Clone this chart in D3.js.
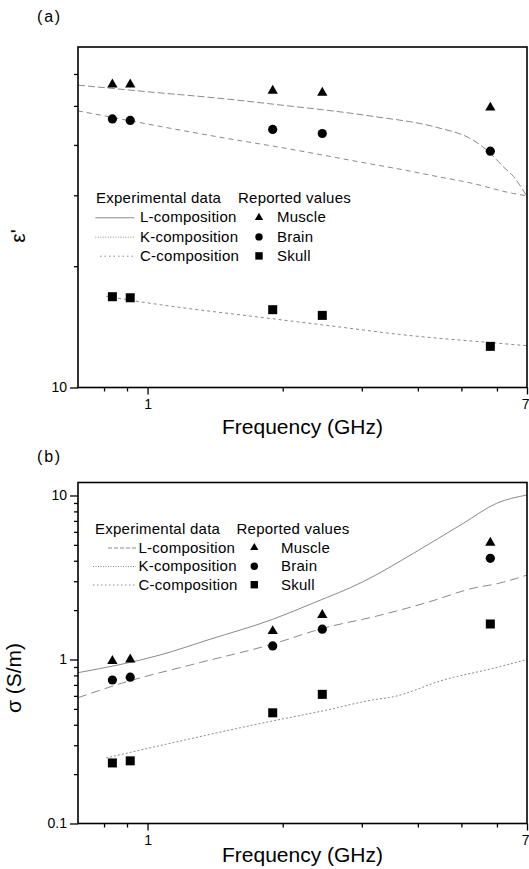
<!DOCTYPE html>
<html><head><meta charset="utf-8">
<script src="https://cdn.jsdelivr.net/npm/d3@7"></script>
<style>
body{margin:0;background:#fff}
svg{display:block}
text{font-family:"Liberation Sans",Arial,Helvetica,sans-serif;fill:#000}
</style></head>
<body>
<svg id="chart" width="529" height="869"></svg>
<script>
// ---------- data ----------
const freqReported = [0.835, 0.915, 1.9, 2.45, 5.8];
const epsMuscle = [56.5, 56.5, 54.5, 53.9, 49.5];
const epsBrain  = [46.4, 46.0, 43.7, 42.7, 38.6];
const epsSkull  = [16.8, 16.7, 15.6, 15.1, 12.65];
const sigMuscle = [0.98, 1.0, 1.49, 1.87, 5.15];
const sigBrain  = [0.75, 0.78, 1.21, 1.53, 4.14];
const sigSkull  = [0.234, 0.241, 0.473, 0.613, 1.646];

const epsLFreq = [0.7, 1.0, 1.45, 1.9, 3.13, 4.41, 5.23, 5.69, 6.2, 6.53, 7.0];
const epsLVal  = [56.3, 54.2, 52.2, 50.5, 47.2, 44.2, 41.5, 38.9, 35.3, 33.4, 29.8];
const epsKFreq = [0.7, 1.45, 2.04, 3.13, 3.71, 4.41, 5.23, 6.53, 7.0];
const epsKVal  = [48.6, 41.8, 39.2, 35.9, 34.7, 33.4, 32.2, 30.3, 29.9];
const epsCFreq = [0.809, 0.915, 1.9, 2.45, 3.74, 5.73, 7.0];
const epsCVal  = [16.85, 16.47, 14.81, 14.31, 13.5, 12.94, 12.7];

const sigLFreq = [0.7, 1.066, 1.377, 1.9, 2.34, 3.02, 3.91, 5.05, 5.99, 7.0];
const sigLVal  = [0.831, 1.065, 1.328, 1.758, 2.21, 2.98, 4.44, 6.77, 8.96, 10.07];
const sigKFreq = [0.7, 0.899, 1.264, 1.9, 2.46, 3.24, 4.18, 5.31, 6.04, 7.0];
const sigKVal  = [0.585, 0.732, 0.935, 1.243, 1.55, 1.84, 2.22, 2.72, 2.91, 3.27];
const sigCFreq = [0.809, 1.9, 2.51, 3.17, 3.53, 4.56, 5.89, 7.0];
const sigCVal  = [0.251, 0.422, 0.492, 0.567, 0.593, 0.75, 0.884, 1.0];

const xDomain = [0.7, 7];
const xMajorTicks = [1, 7];
const xMinorTicks = [0.8, 0.9, 2, 3, 4, 5, 6];
const epsDomain = [10, 70];
const epsMajorTicks = [10];
const epsMinorTicks = [20, 30, 40, 50, 60];
const sigDomain = [0.1, 12];
const sigMajorTicks = [0.1, 1, 10];
const sigMinorTicks = [0.2,0.3,0.4,0.5,0.6,0.7,0.8,0.9,2,3,4,5,6,7,8,9];

const legendExp = ["L-composition", "K-composition", "C-composition"];
const legendRep = ["Muscle", "Brain", "Skull"];

// ---------- drawing ----------
const svg = d3.select("#chart");
const lineColor = "#8a8a8a";

function panel(cfg) {
  const x = d3.scaleLog().domain(xDomain).range([78, 527]);
  const y = d3.scaleLog().domain(cfg.domain).range([cfg.bottom, cfg.top]);
  const g = svg.append("g");

  // curves
  const line = d3.line().x(d => x(d[0])).y(d => y(d[1])).curve(d3.curveMonotoneX);
  cfg.curves.forEach(c => {
    g.append("path")
      .attr("d", line(d3.zip(c.f, c.v)))
      .attr("fill", "none")
      .attr("stroke", lineColor)
      .attr("stroke-width", 1)
      .attr("stroke-dasharray", c.dash);
  });

  // markers
  const tri = d3.symbol(d3.symbolTriangle, 46);
  g.selectAll(".tri").data(d3.zip(freqReported, cfg.muscle)).join("path")
    .attr("d", tri).attr("transform", d => `translate(${x(d[0])},${y(d[1])})`).attr("fill", "#000");
  g.selectAll(".cir").data(d3.zip(freqReported, cfg.brain)).join("circle")
    .attr("cx", d => x(d[0])).attr("cy", d => y(d[1])).attr("r", 4.6).attr("fill", "#000");
  g.selectAll(".sq").data(d3.zip(freqReported, cfg.skull)).join("rect")
    .attr("x", d => x(d[0]) - 4.5).attr("y", d => y(d[1]) - 4.5)
    .attr("width", 9).attr("height", 9).attr("fill", "#000");

  // axes
  const xb = cfg.bottom;
  const axMajX = g.append("g").attr("transform", `translate(0,${xb})`)
    .call(d3.axisBottom(x).tickValues(xMajorTicks).tickFormat(d3.format("d")).tickSize(7).tickPadding(5));
  const axMinX = g.append("g").attr("transform", `translate(0,${xb})`)
    .call(d3.axisBottom(x).tickValues(xMinorTicks).tickFormat("").tickSize(4));
  const axMajY = g.append("g").attr("transform", `translate(78,0)`)
    .call(d3.axisLeft(y).tickValues(cfg.major).tickFormat(cfg.fmt).tickSize(8).tickPadding(3));
  const axMinY = g.append("g").attr("transform", `translate(78,0)`)
    .call(d3.axisLeft(y).tickValues(cfg.minor).tickFormat("").tickSize(4));
  [axMajX, axMinX, axMajY, axMinY].forEach(a => {
    a.select(".domain").remove();
    a.selectAll("line").attr("stroke", "#000").attr("stroke-width", 1.3);
    a.selectAll("text").attr("font-size", 14).attr("font-family", '"Liberation Sans",Arial,sans-serif');
  });
  // keep the last x label inside the picture
  axMajX.selectAll(".tick text").filter(d => d === xDomain[1]).attr("text-anchor", "end").attr("dx", 2);

  // frame
  g.append("rect").attr("x", 78).attr("y", cfg.top)
    .attr("width", 527 - 78).attr("height", cfg.bottom - cfg.top)
    .attr("fill", "none").attr("stroke", "#000").attr("stroke-width", 1.6);

  // axis titles
  g.append("text").attr("x", 302.5).attr("y", cfg.xTitleY)
    .attr("text-anchor", "middle").attr("font-size", 21).text("Frequency (GHz)");
  g.append("text").attr("transform", `translate(${cfg.yTitleX},${cfg.yTitleY}) rotate(-90)`)
    .attr("text-anchor", "middle").attr("font-size", 21).text(cfg.yTitle);

  // panel label
  g.append("text").attr("x", 37).attr("y", cfg.labelY)
    .attr("font-size", 16).attr("letter-spacing", 1.8).text(cfg.label);

  // legend
  const L = cfg.legend;
  const lg = g.append("g").attr("font-size", 15).attr("letter-spacing", 0.25);
  lg.append("text").attr("x", L.expX).attr("y", L.headY).text("Experimental data");
  lg.append("text").attr("x", L.repX).attr("y", L.headY).text("Reported values");
  legendExp.forEach((name, i) => {
    const by = L.rows[i];
    lg.append("line").attr("x1", L.samples[i][0]).attr("x2", L.samples[i][1])
      .attr("y1", by - 4.5).attr("y2", by - 4.5)
      .attr("stroke", lineColor).attr("stroke-width", 1)
      .attr("stroke-dasharray", L.dash[i]);
    lg.append("text").attr("x", L.textX).attr("y", by).text(name);
  });
  const my = i => L.rows[i] - 4.8;
  lg.append("path").attr("d", d3.symbol(d3.symbolTriangle, 30)())
    .attr("transform", `translate(${L.markX},${my(0)})`).attr("fill", "#000");
  lg.append("circle").attr("cx", L.markX).attr("cy", my(1)).attr("r", 3.7).attr("fill", "#000");
  lg.append("rect").attr("x", L.markX - 3.7).attr("y", my(2) - 3.7)
    .attr("width", 7.4).attr("height", 7.4).attr("fill", "#000");
  legendRep.forEach((name, i) => {
    lg.append("text").attr("x", L.repTextX).attr("y", L.rows[i]).text(name);
  });
}

panel({
  top: 47, bottom: 387.5, domain: epsDomain,
  major: epsMajorTicks, minor: epsMinorTicks, fmt: d3.format("d"),
  muscle: epsMuscle, brain: epsBrain, skull: epsSkull,
  curves: [
    {f: epsLFreq, v: epsLVal, dash: "7,3"},
    {f: epsKFreq, v: epsKVal, dash: "5,4"},
    {f: epsCFreq, v: epsCVal, dash: "3,3"}
  ],
  xTitleY: 434, yTitle: "ε'", yTitleX: 25, yTitleY: 236,
  label: "(a)", labelY: 22,
  legend: {expX: 96, repX: 238, headY: 203.3, rows: [222.3, 241.7, 260.7],
           samples: [[95.3,134.3],[95.3,134.3],[100,134.3]],
           dash: ["none", "1,1.5", "1.5,3"],
           textX: 140, markX: 259, repTextX: 277}
});

panel({
  top: 482.5, bottom: 823.5, domain: sigDomain,
  major: sigMajorTicks, minor: sigMinorTicks, fmt: d => d < 1 ? d3.format(".1f")(d) : d3.format("d")(d),
  muscle: sigMuscle, brain: sigBrain, skull: sigSkull,
  curves: [
    {f: sigLFreq, v: sigLVal, dash: "none"},
    {f: sigKFreq, v: sigKVal, dash: "9,5"},
    {f: sigCFreq, v: sigCVal, dash: "2,2"}
  ],
  xTitleY: 862, yTitle: "σ (S/m)", yTitleX: 21, yTitleY: 678,
  label: "(b)", labelY: 462,
  legend: {expX: 95, repX: 236.5, headY: 534, rows: [552.5, 571, 589.5],
           samples: [[108,137],[93,136],[93,136]],
           dash: ["4,2", "1,1.5", "1.5,2.5"],
           textX: 138.5, markX: 254.3, repTextX: 281}
});
</script>
</body></html>
